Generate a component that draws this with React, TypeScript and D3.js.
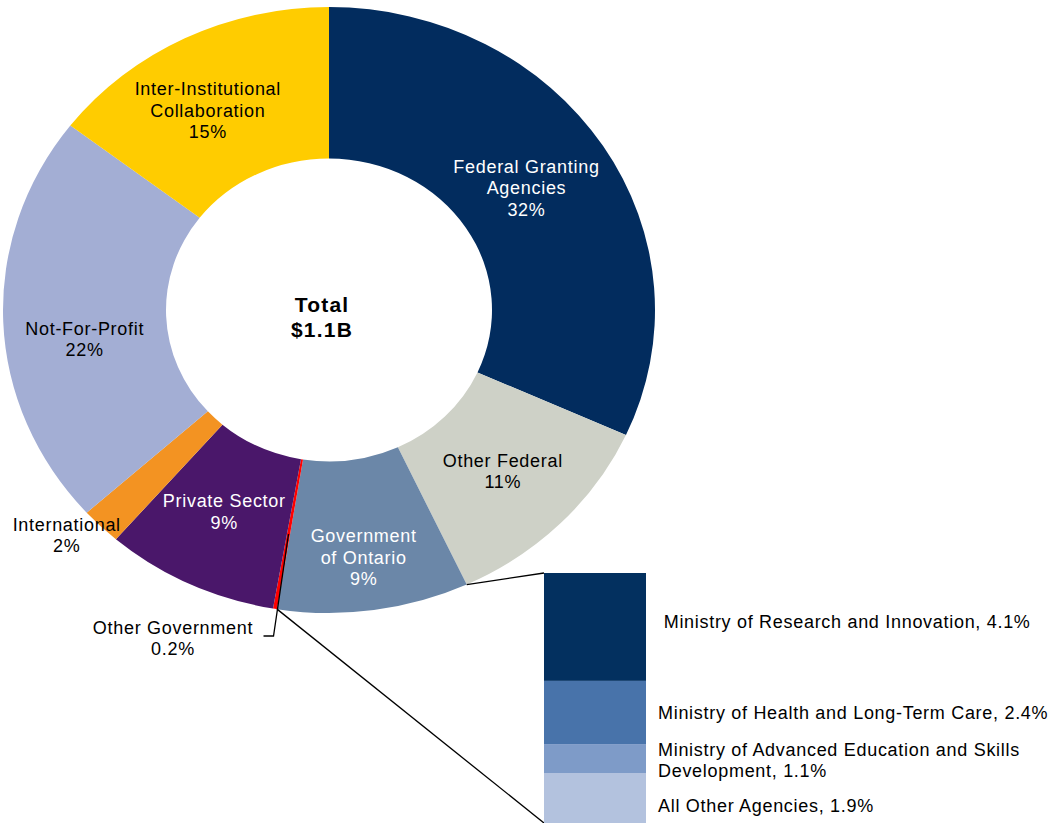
import React from "react";
import * as d3 from "d3";

// ---- data ----
const categories = [
  "Federal Granting Agencies",
  "Other Federal",
  "Government of Ontario",
  "Other Government",
  "Private Sector",
  "International",
  "Not-For-Profit",
  "Inter-Institutional Collaboration",
];
const shares = [31.8, 11.3, 9.5, 0.2, 8.6, 2.0, 22.1, 14.6];
const labelLines = [
  ["Federal Granting", "Agencies", "32%"],
  ["Other Federal", "11%"],
  ["Government", "of Ontario", "9%"],
  ["Other Government", "0.2%"],
  ["Private Sector", "9%"],
  ["International", "2%"],
  ["Not-For-Profit", "22%"],
  ["Inter-Institutional", "Collaboration", "15%"],
];
const ontarioAgencies = [
  "Ministry of Research and Innovation",
  "Ministry of Health and Long-Term Care",
  "Ministry of Advanced Education and Skills Development",
  "All Other Agencies",
];
const ontarioShares = [4.1, 2.4, 1.1, 1.9];
const ontarioLabelLines = [
  [" Ministry of Research and Innovation, 4.1%"],
  ["Ministry of Health and Long-Term Care, 2.4%"],
  ["Ministry of Advanced Education and Skills", "Development, 1.1%"],
  ["All Other Agencies, 1.9%"],
];
const totalLines = ["Total", "$1.1B"];

// ---- styles / layout ----
const sliceColors = ["#022C5E", "#CED1C7", "#6B87A8", "#FF0000", "#4A176A", "#F39322", "#A3AED4", "#FFCC00"];
const sliceTextColors = ["#fff", "#000", "#fff", "#000", "#fff", "#000", "#000", "#000"];
const barColors = ["#03305F", "#4873AA", "#7E9BC8", "#B3C2DE"];
// label offsets from slice centroid (px)
const labelOffsets: [number, number][] = [
  [-8, 1], [0, 1], [1, 22], [0, 0], [0, -4], [0, 0], [0, 20], [-13, 4],
];
const barLabelDy = [-5, 0, 1.5, 7.5];

const W = 1059, H = 823;
const CX = 329, CY = 310, R_OUT = 326, R_IN = 163, SY = 303 / 326;
const LINE = 21.5, CAP = 13;
const FONT = "'Liberation Sans', Arial, sans-serif";

function polar(angle: number, r: number): [number, number] {
  return [CX + r * Math.sin(angle), CY - r * Math.cos(angle) * SY];
}

function TextBlock({ x, cy, lines, fill, anchor = "middle", size = 18, weight = 400, spacing = 0.7 }: any) {
  const first = cy + (CAP - (lines.length - 1) * LINE) / 2;
  return (
    <text x={x} y={first} fill={fill} fontFamily={FONT} fontSize={size} fontWeight={weight}
      letterSpacing={spacing} textAnchor={anchor} style={{ whiteSpace: "pre" }}>
      {lines.map((l: string, i: number) => (
        <tspan key={i} x={x} y={first + i * LINE}>{l}</tspan>
      ))}
    </text>
  );
}

export default function App() {
  const pie = d3.pie<number>().sort(null).value((d) => d).startAngle(0).endAngle(2 * Math.PI);
  const arcs = pie(shares);
  const arc = d3.arc<d3.PieArcDatum<number>>().innerRadius(R_IN).outerRadius(R_OUT);
  const midR = (R_IN + R_OUT) / 2;

  const barX = 544, barW = 102;
  const yBar = d3.scaleLinear().domain([0, d3.sum(ontarioShares)]).range([573, 823]);
  const stacks: [number, number][] = [];
  let acc = 0;
  ontarioShares.forEach((v) => { stacks.push([acc, acc + v]); acc += v; });

  const ont = arcs[2];
  const p1 = polar(ont.startAngle, R_OUT);
  const p2 = polar(ont.endAngle, R_OUT);

  const og = arcs[3];
  const ogMid = (og.startAngle + og.endAngle) / 2;
  const ogC = polar(ogMid, midR);
  const ogElbow: [number, number] = [ogC[0] - 15, 636];
  const ogEnd: [number, number] = [ogC[0] - 25, 636];

  const intl = arcs[5];
  const intlMid = (intl.startAngle + intl.endAngle) / 2;
  const intlPos = polar(intlMid + 0.05, 357);

  return (
    <svg width={W} height={H} style={{ position: "absolute", left: 0, top: 0, background: "#fff" }}>
      <g transform={`translate(${CX},${CY}) scale(1,${SY})`}>
        {arcs.map((a, i) => (
          <path key={categories[i]} d={arc(a) || ""} fill={sliceColors[i]} />
        ))}
      </g>

      {/* connector lines to the Ontario breakdown */}
      <line x1={p1[0]} y1={p1[1]} x2={barX} y2={yBar(0)} stroke="#000" strokeWidth={1.3} />
      <line x1={p2[0]} y1={p2[1]} x2={barX} y2={yBar(acc)} stroke="#000" strokeWidth={1.3} />

      {/* stacked breakdown bar */}
      {stacks.map(([s, e], i) => (
        <rect key={ontarioAgencies[i]} x={barX} y={yBar(s)} width={barW} height={yBar(e) - yBar(s)} fill={barColors[i]} />
      ))}
      {stacks.map(([s, e], i) => (
        <TextBlock key={"bl" + i} x={barX + barW + 12} cy={(yBar(s) + yBar(e)) / 2 + barLabelDy[i]}
          lines={ontarioLabelLines[i]} fill="#000" anchor="start" />
      ))}

      {/* slice labels */}
      {arcs.map((a, i) => {
        if (i === 3 || i === 5) return null;
        const mid = (a.startAngle + a.endAngle) / 2;
        const [x, y] = polar(mid, midR);
        return (
          <TextBlock key={"l" + i} x={x + labelOffsets[i][0]} cy={y + labelOffsets[i][1]}
            lines={labelLines[i]} fill={sliceTextColors[i]} />
        );
      })}

      {/* International outside label */}
      <TextBlock x={intlPos[0]} cy={intlPos[1]} lines={labelLines[5]} fill="#000" />

      {/* Other Government leader + label */}
      <polyline points={[ogC, ogElbow, ogEnd].map((p) => p.join(",")).join(" ")}
        fill="none" stroke="#000" strokeWidth={1.3} />
      <TextBlock x={173} cy={638} lines={labelLines[3]} fill="#000" />

      {/* center total */}
      <text x={322} y={312} fontFamily={FONT} fontSize={21} fontWeight={700} letterSpacing={1.2} textAnchor="middle">
        <tspan x={322} y={312}>{totalLines[0]}</tspan>
        <tspan x={322} y={337}>{totalLines[1]}</tspan>
      </text>
    </svg>
  );
}
